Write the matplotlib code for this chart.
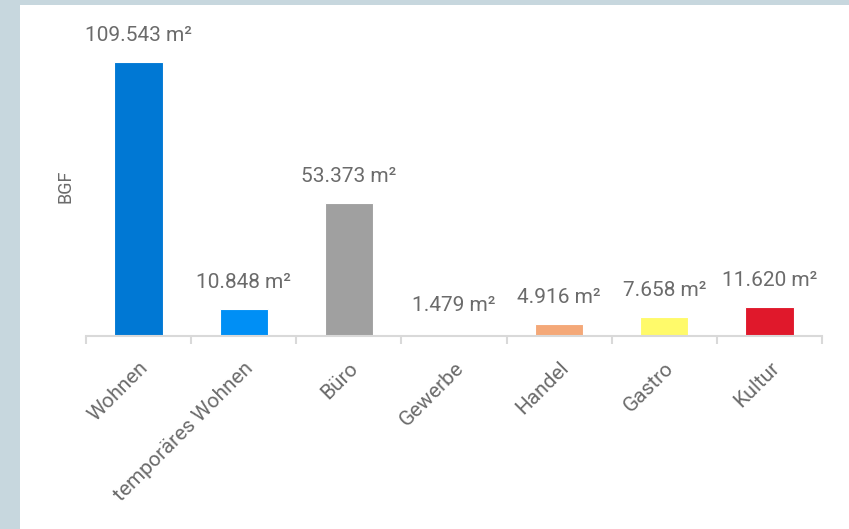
import matplotlib.pyplot as plt
from matplotlib.patches import Rectangle

categories = ["Wohnen", "temporäres Wohnen", "Büro", "Gewerbe", "Handel", "Gastro", "Kultur"]
values = [109543, 10848, 53373, 1479, 4916, 7658, 11620]
labels = ["109.543 m²", "10.848 m²", "53.373 m²", "1.479 m²", "4.916 m²", "7.658 m²", "11.620 m²"]
colors = ["#0078d4", "#008ff5", "#a0a0a0", "#ffffff", "#f4a878", "#fffa6a", "#e0182b"]

plt.rcParams['font.family'] = ['Roboto', 'DejaVu Sans']
txt = "#6b6b6b"

fig = plt.figure(figsize=(8.49, 5.29), dpi=100, facecolor="#c7d7de")
fig.patches.append(Rectangle((20 / 849, 0), 1, (529 - 5) / 529, transform=fig.transFigure,
                             facecolor="white", edgecolor="none", zorder=-10))

ax = fig.add_axes([86 / 849, 193 / 529, (822 - 86) / 849, 300 / 529])
ax.set_zorder(5)
ax.set_facecolor("none")
x = range(len(categories))
ax.bar(x, values, width=0.46, color=colors, edgecolor="white", linewidth=0.8)

for i, (v, l) in enumerate(zip(values, labels)):
    ax.annotate(l, (i, v), xytext=(0, 19), textcoords="offset points", ha="center", va="center",
                fontsize=15, color=txt)

ax.set_xlim(-0.5, len(categories) - 0.5)
ax.set_ylim(0, 120000)
ax.set_xticks([i + 0.5 for i in range(-1, len(categories))], minor=False)
ax.set_xticklabels([])
ax.tick_params(axis="x", length=6, color="#d9d9d9", width=1.5)
ax.set_xticks(list(x), minor=True)
ax.set_xticklabels(categories, minor=True, rotation=45, ha="right", rotation_mode="anchor",
                   fontsize=15, color=txt)
ax.tick_params(axis="x", which="minor", length=0, pad=16)

ax.set_yticks([])
for s in ["top", "right", "left"]:
    ax.spines[s].set_visible(False)
ax.spines["bottom"].set_color("#d9d9d9")
ax.spines["bottom"].set_linewidth(1.5)

fig.text(66 / 849, 1 - 186 / 529, "BGF", rotation=90, ha="center", va="center",
         fontsize=13, color=txt)

plt.savefig("out.png", dpi=100, facecolor=fig.get_facecolor())
